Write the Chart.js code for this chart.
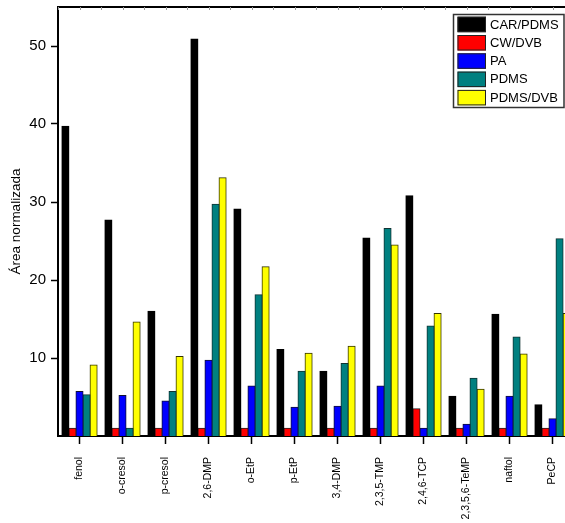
<!DOCTYPE html>
<html>
<head>
<meta charset="utf-8">
<script src="https://cdn.jsdelivr.net/npm/chart.js@4/dist/chart.umd.min.js"></script>
<style>
  html, body { margin: 0; padding: 0; background: #fff; overflow: hidden; }
  #wrap { width: 565px; height: 523px; overflow: hidden; position: relative; }
  canvas { display: block; }
</style>
</head>
<body>
<div id="wrap"><canvas id="chart" width="574" height="523"></canvas></div>
<script>
// Phenolic compounds extracted with each SPME fibre
const compounds = ['fenol', 'o-cresol', 'p-cresol', '2,6-DMP', 'o-EtP', 'p-EtP', '3,4-DMP',
                   '2,3,5-TMP', '2,4,6-TCP', '2,3,5,6-TeMP', 'naftol', 'PeCP'];

// Normalised peak area per fibre
const carPdms  = [39.7, 27.7, 16.0, 50.9, 29.1, 11.1, 8.3, 25.4, 30.8, 5.1, 15.6, 4.0];
const cwDvb    = [1.0, 1.0, 1.0, 1.0, 1.0, 1.0, 1.0, 1.0, 3.5, 1.0, 1.0, 1.0];
const pa       = [5.7, 5.2, 4.5, 9.7, 6.4, 3.7, 3.8, 6.4, 1.0, 1.5, 5.1, 2.2];
const pdms     = [5.3, 1.0, 5.7, 29.7, 18.1, 8.3, 9.3, 26.6, 14.1, 7.4, 12.7, 25.3];
const pdmsDvb  = [9.1, 14.6, 10.2, 33.1, 21.7, 10.6, 11.5, 24.5, 15.7, 6.0, 10.5, 15.7];

const yTickValues = [10, 20, 30, 40, 50];
const yTitle = 'Área normalizada';

const FONT = '"Liberation Sans", Arial, sans-serif';

function series(label, data, color, edge) {
  return {
    label, data,
    backgroundColor: color,
    borderColor: edge,
    borderWidth: 1,
    borderSkipped: 'bottom',
    inflateAmount: 0.5,
    categoryPercentage: 0.82,
    barPercentage: 1.0
  };
}

// Closed frame on top of the plot with small ticks along the upper edge
const framePlugin = {
  id: 'frame',
  afterDraw(chart) {
    const { ctx, chartArea: a, scales } = chart;
    ctx.save();
    ctx.strokeStyle = '#000';
    ctx.lineWidth = 2;
    ctx.beginPath();
    ctx.moveTo(a.left - 1, a.top);
    ctx.lineTo(a.right + 10, a.top);
    ctx.stroke();
    ctx.strokeStyle = '#999';
    ctx.lineWidth = 1;
    const x = scales.x;
    for (let i = 0; i < compounds.length; i++) {
      [i - 0.5, i].forEach(v => {
        const px = Math.round(x.getPixelForValue(v)) + 0.5;
        ctx.beginPath();
        ctx.moveTo(px, a.top);
        ctx.lineTo(px, a.top + 3);
        ctx.stroke();
      });
    }
    ctx.restore();
  }
};

// Boxed legend in the upper-right corner of the plot
const boxLegendPlugin = {
  id: 'boxLegend',
  afterDraw(chart) {
    const { ctx } = chart;
    const sets = chart.data.datasets;
    const x0 = 453.5, y0 = 14.5, w = 110.5, rowH = 18.3;
    const h = sets.length * rowH + 1.5;
    ctx.save();
    ctx.fillStyle = '#fff';
    ctx.fillRect(x0, y0, w, h);
    ctx.strokeStyle = '#333';
    ctx.lineWidth = 1.5;
    ctx.strokeRect(x0, y0, w, h);
    ctx.font = '13px ' + FONT;
    ctx.textBaseline = 'middle';
    ctx.textAlign = 'left';
    sets.forEach((ds, i) => {
      const sy = y0 + 2.2 + i * rowH;
      ctx.fillStyle = ds.backgroundColor;
      ctx.fillRect(x0 + 4, sy, 28.5, 15.5);
      ctx.strokeStyle = '#222';
      ctx.lineWidth = 1;
      ctx.strokeRect(x0 + 4.5, sy + 0.5, 27.5, 14.5);
      ctx.fillStyle = '#000';
      ctx.fillText(ds.label, x0 + 36.5, sy + 8.3);
    });
    ctx.restore();
  }
};

new Chart(document.getElementById('chart'), {
  type: 'bar',
  data: {
    labels: compounds,
    datasets: [
      series('CAR/PDMS', carPdms, '#000000', '#000000'),
      series('CW/DVB', cwDvb, '#FF0000', '#222222'),
      series('PA', pa, '#0000FF', '#111133'),
      series('PDMS', pdms, '#008080', '#113333'),
      series('PDMS/DVB', pdmsDvb, '#FFFF00', '#333300')
    ]
  },
  options: {
    responsive: false,
    animation: false,
    devicePixelRatio: 1,
    layout: { padding: { top: 7, left: 0, right: 0, bottom: 0 } },
    plugins: {
      legend: { display: false },
      tooltip: { enabled: false }
    },
    scales: {
      x: {
        type: 'category',
        grid: {
          offset: false,
          drawOnChartArea: false,
          drawTicks: true,
          tickLength: 8,
          tickColor: '#000',
          tickWidth: 1.5
        },
        border: { display: true, color: '#000', width: 2 },
        ticks: {
          autoSkip: false,
          minRotation: 90,
          maxRotation: 90,
          padding: 13,
          color: '#000',
          font: { family: FONT, size: 10.5 }
        },
        afterFit(scale) {
          scale.height = 87;
          scale.paddingLeft = 0;
          scale.paddingRight = 0;
        }
      },
      y: {
        min: 0,
        max: 55,
        grid: {
          drawOnChartArea: false,
          drawTicks: true,
          tickLength: 7,
          tickColor: '#000',
          tickWidth: 1.5
        },
        border: { display: true, color: '#000', width: 2 },
        ticks: {
          stepSize: 10,
          padding: 5,
          color: '#000',
          font: { family: FONT, size: 15 }
        },
        afterBuildTicks(scale) {
          scale.ticks = yTickValues.map(v => ({ value: v }));
        },
        title: {
          display: true,
          text: yTitle,
          color: '#000',
          font: { family: FONT, size: 13.5 },
          padding: { top: 8, bottom: 0 }
        },
        afterFit(scale) {
          scale.width = 58;
          scale.paddingTop = 0;
          scale.paddingBottom = 0;
        }
      }
    }
  },
  plugins: [framePlugin, boxLegendPlugin]
});
</script>
</body>
</html>
